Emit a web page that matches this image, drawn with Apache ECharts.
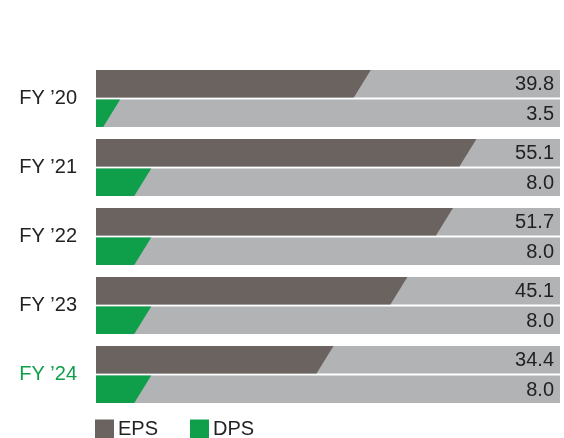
<!DOCTYPE html>
<html><head><meta charset="utf-8">
<script src="https://cdn.jsdelivr.net/npm/echarts@6/dist/echarts.min.js"></script>
<style>html,body{margin:0;padding:0;background:#fff}#c{width:564px;height:438px}</style>
</head><body><div id="c"></div>
<script>
const categories = ["FY \u201920", "FY \u201921", "FY \u201922", "FY \u201923", "FY \u201924"];
const eps = [39.8, 55.1, 51.7, 45.1, 34.4];
const dps = [3.5, 8.0, 8.0, 8.0, 8.0];
const seriesNames = ["EPS", "DPS"];

const COL_EPS = "#6b6360", COL_DPS = "#0f9f4b", COL_TRACK = "#b1b3b5";
const FONT = "Liberation Sans, Arial, sans-serif";
const BAR_H = 27.5, SLANT = 17;

function makeRender(upper, color) {
  return function (params, api) {
    const v = api.value(0), cat = api.value(1);
    const end = api.coord([v, cat]);
    const base = api.coord([0, cat]);
    const cs = params.coordSys;
    const right = cs.x + cs.width;
    const cy = end[1];
    const yTop = upper ? cy - 1 - BAR_H : cy + 1;
    const yBot = yTop + BAR_H;
    const x0 = base[0], xv = end[0];
    const xb = Math.max(x0, xv - SLANT);
    return {
      type: "group",
      children: [
        { type: "rect", shape: { x: x0, y: yTop, width: right - x0, height: BAR_H }, style: { fill: COL_TRACK } },
        { type: "polygon", shape: { points: [[x0, yTop], [xv, yTop], [xb, yBot], [x0, yBot]] }, style: { fill: color } },
        { type: "text", x: right - 6, y: yTop + BAR_H / 2 + 1,
          style: { text: v.toFixed(1), fill: "#222", font: "20px " + FONT, align: "right", verticalAlign: "middle" } }
      ]
    };
  };
}

const chart = echarts.init(document.getElementById("c"), null, { renderer: "canvas" });
chart.setOption({
  animation: false,
  grid: { left: 96, right: 4, top: 64, bottom: 29, containLabel: false },
  legend: {
    data: seriesNames, left: 90, bottom: -6, itemWidth: 19, itemHeight: 19, itemGap: 32,
    icon: "rect", textStyle: { fontSize: 20, color: "#222", fontFamily: FONT, padding: [0, 0, 0, -1] }
  },
  xAxis: { type: "value", min: 0, max: 67.2, show: false },
  yAxis: {
    type: "category", data: categories, inverse: true,
    axisLine: { show: false }, axisTick: { show: false },
    axisLabel: {
      margin: 19, fontSize: 20, fontFamily: FONT,
      color: function (val, idx) { return idx === 4 ? COL_DPS : "#222"; }
    }
  },
  series: [
    { name: "EPS", type: "custom", renderItem: makeRender(true, COL_EPS), itemStyle: { color: COL_EPS },
      encode: { x: 0, y: 1 }, data: eps.map((v, i) => [v, i]) },
    { name: "DPS", type: "custom", renderItem: makeRender(false, COL_DPS), itemStyle: { color: COL_DPS },
      encode: { x: 0, y: 1 }, data: dps.map((v, i) => [v, i]) }
  ]
});
</script></body></html>
